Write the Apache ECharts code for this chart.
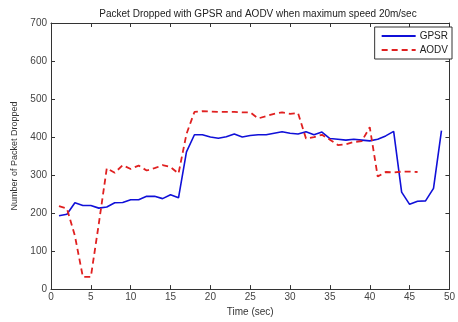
<!DOCTYPE html>
<html><head><meta charset="utf-8">
<script src="https://cdn.jsdelivr.net/npm/echarts@6/dist/echarts.min.js"></script>
<style>html,body{margin:0;padding:0;background:#fff}#c{width:458px;height:322px}</style>
</head><body><div id="c"></div>
<script>
var gpsrX = [1,2,3,4,5,6,7,8,9,10,11,12,13,14,15,16,17,18,19,20,21,22,23,24,25,26,27,28,29,30,31,32,33,34,35,36,37,38,39,40,41,42,43,44,45,46,47,48,49];
var gpsrY = [193,197,227,220,220,213,216,227,228,235,235,244,244,238,248,240,361,406,406,400,397,401,408,400,404,406,406,410,414,410,408,414,406,413,396,394,392,394,392,390,394,403,415,255,223,231,232,265,417];
var aodvX = [1,2,3,4,5,6,7,8,9,10,11,12,13,14,15,16,17,18,19,20,21,22,23,24,25,26,27,28,29,30,31,32,33,34,35,36,37,38,39,40,41,42,43,44,45,46];
var aodvY = [218,212,140,32,32,172,318,306,326,316,325,312,318,326,321,304,408,466,468,467,466,466,466,465,465,449,455,461,465,461,463,396,400,406,393,379,381,387,389,426,296,308,307,309,309,308];
var xTicks = {min:0, max:50, interval:5};
var yTicks = {min:0, max:700, interval:100};
var titleText = 'Packet Dropped with GPSR and AODV when maximum speed 20m/sec';
var xName = 'Time (sec)';
var yName = 'Number of Packet Dropped';

function pairs(xs, ys){ return xs.map(function(x,i){return [x, ys[i]];}); }
var font = "'Liberation Sans', Arial, sans-serif";
function axisCommon(){ return {
  axisLine:{show:true, onZero:false, lineStyle:{color:'#333', width:1}},
  axisTick:{show:true, inside:true, length:4, lineStyle:{color:'#333'}},
  splitLine:{show:false}
};}
var chart = echarts.init(document.getElementById('c'), null, {renderer:'canvas'});
chart.setOption({
  animation:false,
  backgroundColor:'#fff',
  title:{text:titleText, left:253, textAlign:'center', top:4,
    textStyle:{fontFamily:font, fontSize:10, fontWeight:'normal', color:'#222'}},
  grid:{left:51, right:2, top:23, bottom:26},
  legend:{orient:'vertical', right:6, top:27, backgroundColor:'#fff',
    borderColor:'#333', borderWidth:1, borderRadius:0, padding:[4,4,4,6],
    itemWidth:34, itemHeight:10, itemGap:4,
    itemStyle:{opacity:0},
    textStyle:{fontFamily:font, fontSize:10, color:'#222', padding:[0,0,0,-1]},
    data:['GPSR','AODV']},
  xAxis:[
    Object.assign({type:'value', min:xTicks.min, max:xTicks.max, interval:xTicks.interval,
      name:xName, nameLocation:'middle', nameGap:12,
      nameTextStyle:{fontFamily:font, fontSize:10, color:'#333'},
      axisLabel:{fontFamily:font, fontSize:10, color:'#444', margin:3}}, axisCommon()),
    Object.assign({type:'value', position:'top', min:xTicks.min, max:xTicks.max, interval:xTicks.interval,
      axisLabel:{show:false}}, axisCommon())
  ],
  yAxis:[
    Object.assign({type:'value', min:yTicks.min, max:yTicks.max, interval:yTicks.interval,
      name:yName, nameLocation:'middle', nameGap:28,
      nameTextStyle:{fontFamily:font, fontSize:9, color:'#333'},
      axisLabel:{fontFamily:font, fontSize:10, color:'#444', margin:4}}, axisCommon()),
    Object.assign({type:'value', position:'right', min:yTicks.min, max:yTicks.max, interval:yTicks.interval,
      axisLabel:{show:false}}, axisCommon())
  ],
  series:[
    {name:'GPSR', type:'line', data:pairs(gpsrX,gpsrY), symbol:'none', showSymbol:false,
      lineStyle:{color:'#1010d8', width:1.6}, itemStyle:{color:'#1010d8'}},
    {name:'AODV', type:'line', data:pairs(aodvX,aodvY), symbol:'none', showSymbol:false,
      lineStyle:{color:'#e02020', width:1.8, type:[6,4]}, itemStyle:{color:'#e02020'}}
  ]
});
</script></body></html>
